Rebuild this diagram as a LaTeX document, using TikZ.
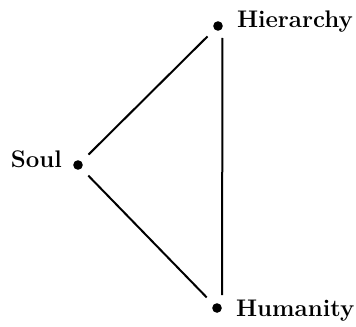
\documentclass[tikz,border=0pt]{standalone}
\usepackage{tikz}
\usetikzlibrary{positioning,calc}

\begin{document}
\begin{tikzpicture}[
  x=0.5pt, y=-0.5pt,
  line width=1pt,
  every node/.style={font=\fontsize{12}{14}\selectfont\bfseries},
  pt/.style={circle,fill=black,inner sep=0pt,minimum size=4.8pt},
  link/.style={shorten <=4.5pt,shorten >=4.5pt}]

\useasboundingbox (0,0) rectangle (356,326);

% --- Three points ---
\node[pt] (soul) at (78,165) {};
\node[pt] (hier) at (218,26) {};
\node[pt] (hum)  at (217,308) {};

% --- Labels ---
\node[anchor=base east,inner sep=0pt] (soullbl) at (63,167) {Soul};
\node[anchor=base west,inner sep=0pt] (hierlbl) at (236,28) {Hierarchy};
\node[anchor=base west,inner sep=0pt] (humlbl)  at (235,316) {Humanity};

% --- Connections ---
\draw[link] (soul) -- (hier);
\draw[link] (soul) -- (hum);
\draw[shorten <=6pt,shorten >=6.5pt]
  ($(hier)+(4.5,0)$) -- ($(hum)+(5,0)$);

\end{tikzpicture}
\end{document}
